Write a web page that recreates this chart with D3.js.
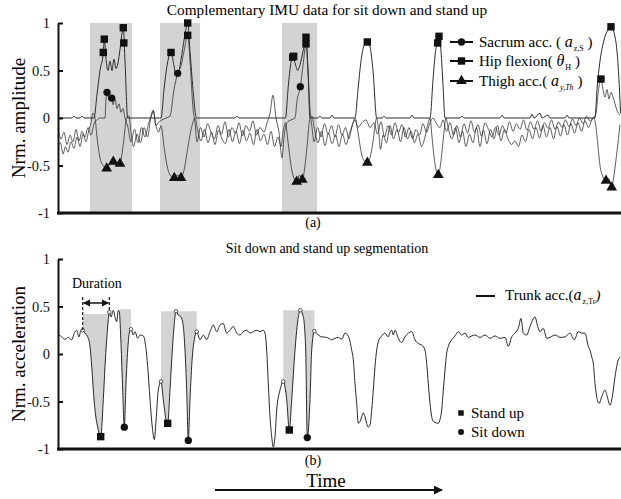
<!DOCTYPE html>
<html>
<head>
<meta charset="utf-8">
<script src="https://cdn.jsdelivr.net/npm/d3@7/dist/d3.min.js"></script>
<style>
  body { margin: 0; background: #fff; }
  svg { display: block; font-family: 'Liberation Serif', 'Times New Roman', serif; }
</style>
</head>
<body>
<svg id="chart" width="621" height="499"></svg>
<script>
// samples along the time axis (arbitrary units), values are normalised
const sampleRange = [58, 621];
const yTicks = [1, 0.5, 0, -0.5, -1];
const yTickLabels = ['1', '0.5', '0', '-0.5', '-1'];

// top panel: shaded sit/stand windows
const imuWindows = [[90, 132], [160, 200], [282, 317]];

const hipFlexion = [
  [58, 0], [72, 0], [74, 0.02], [76, 0], [80, 0], [82, 0.02], [84, 0], [94, 0], [97, 0.25], [100, 0.5],
  [103.3, 0.69], [104.3, 0.83], [106, 0.62], [108, 0.5], [110, 0.6], [112, 0.5], [114, 0.62], [116, 0.52],
  [118, 0.58], [120, 0.72], [123.3, 0.95], [125, 0.6], [127.7, 0], [161, 0], [164, 0.3], [167, 0.55],
  [171, 0.69], [174, 0.55], [176, 0.45], [179, 0.5], [182, 0.68], [185, 0.88], [187.7, 1.0], [190, 0.7],
  [193, 0.3], [196.5, 0], [235, 0], [237, 0.02], [239, 0], [285.5, 0], [288, 0.3], [290.5, 0.55],
  [292.7, 0.64], [295, 0.58], [297.7, 0.5], [300, 0.56], [303, 0.7], [306, 0.85], [308, 0.5], [310, 0],
  [318, 0], [320, 0.02], [322, 0], [330, 0], [332, 0.03], [334, 0], [355, 0], [358, 0.3], [361, 0.6],
  [364, 0.76], [367.3, 0.8], [370, 0.75], [373, 0.5], [376.7, 0], [382, 0], [384, 0.02], [386, 0],
  [410, 0], [412, 0.03], [414, 0], [430, 0], [433, 0.4], [435.5, 0.7], [437.7, 0.79], [439, 0.86],
  [441, 0.7], [443, 0.35], [445, 0], [460, 0], [462, 0.02], [464, 0], [500, 0], [502, 0.03], [504, 0],
  [530, 0], [532, 0.04], [534, 0], [540, 0.05], [542, 0], [548, 0.03], [550, 0], [565, 0], [567, 0.03],
  [569, 0], [595, 0], [597, 0.3], [600, 0.6], [604, 0.82], [608, 0.93], [611, 0.96], [614, 0.9],
  [617, 0.7], [619, 0.4], [620.5, 0.05]
];

const sacrumAcc = [
  [58, -0.1], [61, -0.22], [64, -0.15], [67, -0.28], [70, -0.18], [73, -0.25], [76, -0.12], [79, -0.24],
  [82, -0.14], [85, -0.2], [88, -0.1], [91, -0.18], [94, -0.06], [97, -0.02], [100, 0], [105, 0],
  [106, 0.2], [107, 0.27], [109, 0.19], [111.7, 0.21], [113, 0.14], [115, 0.2], [117, 0.1], [119, 0.15],
  [121, 0.06], [123, 0.1], [125, 0], [128, -0.1], [131, -0.25], [134.5, -0.12], [138, -0.26], [141.5, -0.1],
  [145, -0.2], [148.5, -0.06], [152, 0.04], [153.5, 0.08], [156, -0.08], [159, -0.04], [162, -0.02],
  [166, 0], [170, 0.02], [174, 0.3], [177.7, 0.47], [181, 0.55], [184, 0.7], [187.7, 0.87], [190, 0.6],
  [193, 0.1], [195, -0.05], [197, -0.25], [200.5, -0.1], [204, -0.2], [207.5, -0.06], [211, -0.15],
  [214.5, -0.22], [218, -0.08], [221.5, -0.17], [225, -0.04], [228.5, -0.2], [232, -0.1], [235.5, -0.16],
  [239, -0.05], [242.5, -0.19], [246, -0.08], [249.5, -0.14], [253, -0.03], [256.5, -0.18], [260, -0.1],
  [264, -0.15], [267, -0.05], [270, 0.05], [273, 0.24], [276, 0], [279, -0.15], [282, -0.42], [284, -0.2],
  [287, -0.05], [291, -0.02], [295, 0], [297, 0.18], [300.3, 0.33], [303, 0.55], [306, 0.78], [308, 0.5],
  [310, 0.1], [312, -0.1], [314, -0.25], [317.5, -0.1], [321, -0.2], [324.5, -0.06], [328, -0.17],
  [331.5, -0.08], [335, -0.2], [338.5, -0.07], [342, -0.18], [345.5, -0.1], [349, -0.22], [352, -0.08],
  [355, -0.02], [358, -0.1], [362, -0.05], [366, -0.02], [370, -0.1], [374, -0.05], [377.5, -0.17],
  [381, -0.04], [384.5, -0.2], [388, -0.08], [391.5, -0.18], [395, -0.05], [398.5, -0.15], [402, -0.07],
  [405.5, -0.2], [409, -0.1], [412.5, -0.22], [416, -0.12], [419.5, -0.18], [423, -0.06], [426.5, -0.15],
  [430, -0.05], [433, 0], [436, -0.05], [440, -0.1], [443, -0.02], [446.5, -0.14], [450, -0.05],
  [453.5, -0.18], [457, -0.08], [460.5, -0.2], [464, -0.06], [467.5, -0.16], [471, -0.03], [474.5, -0.15],
  [478, -0.07], [481.5, -0.19], [485, -0.05], [488.5, -0.12], [492, -0.2], [495.5, -0.1], [499, -0.18],
  [502.5, -0.08], [506, -0.16], [509.5, -0.04], [513, -0.14], [516.5, -0.06], [520, -0.12], [523.5, -0.02],
  [527, -0.13], [530.5, -0.04], [534, -0.12], [537.5, -0.03], [541, -0.14], [544.5, -0.05], [548, -0.11],
  [551.5, -0.02], [555, -0.12], [558.5, -0.04], [562, -0.1], [565.5, -0.02], [569, -0.09], [572.5, -0.01],
  [576, -0.08], [579.5, 0], [583, -0.06], [586.5, 0.02], [590, -0.03], [593, 0], [596, 0.05], [598, 0.25],
  [601, 0.41], [603, 0.3], [605, 0.22], [607, 0.3], [609, 0.2], [611, 0.27], [613, 0.22], [615, 0.15],
  [617, 0.08], [620, 0.03]
];

const thighAcc = [
  [58, -0.3], [60.5, -0.26], [63, -0.38], [65.5, -0.3], [68, -0.36], [71, -0.25], [74, -0.32], [77, -0.2],
  [80, -0.3], [83, -0.17], [86, -0.25], [89, -0.12], [91, -0.05], [93, 0.05], [95, 0], [97, -0.2],
  [100, -0.42], [103, -0.5], [106.7, -0.53], [110, -0.48], [113.3, -0.46], [116.5, -0.5], [120, -0.48],
  [123, -0.3], [126.7, 0], [129, 0.02], [131, -0.15], [133.5, -0.3], [137, -0.17], [140.5, -0.26],
  [144, -0.1], [147.5, -0.2], [151, 0.02], [153, 0.08], [155.5, -0.06], [158.5, -0.15], [161, -0.08],
  [164, -0.3], [167, -0.5], [170, -0.6], [174.3, -0.63], [177.5, -0.6], [181, -0.63], [184, -0.55],
  [188, -0.3], [192, -0.08], [195, 0], [197.5, -0.12], [201, -0.24], [204.5, -0.12], [208, -0.26],
  [211.5, -0.15], [215, -0.28], [218.5, -0.13], [222, -0.22], [225.5, -0.27], [229, -0.12], [232.5, -0.25],
  [236, -0.14], [239.5, -0.27], [243, -0.13], [246.5, -0.24], [250, -0.16], [253.5, -0.28], [257, -0.12],
  [260.5, -0.24], [264, -0.17], [267.5, -0.28], [271, -0.14], [274.5, -0.3], [278, -0.2], [281, -0.3],
  [283, -0.15], [285.5, -0.05], [288, -0.25], [291, -0.5], [293.5, -0.62], [296.7, -0.67], [299.5, -0.6],
  [302.3, -0.65], [305, -0.5], [307, -0.3], [310, 0], [312, 0.02], [314.5, -0.12], [318, -0.26],
  [321.5, -0.14], [325, -0.29], [328.5, -0.16], [332, -0.27], [335.5, -0.18], [339, -0.3], [342.5, -0.17],
  [346, -0.28], [349.5, -0.16], [352.5, -0.08], [355, 0], [358, -0.15], [361, -0.35], [364, -0.45],
  [367.3, -0.47], [370, -0.42], [373, -0.25], [376.7, 0], [378.5, -0.12], [380.5, -0.33], [383, -0.18],
  [386.5, -0.26], [390, -0.08], [393.5, -0.22], [397, -0.12], [400.5, -0.25], [404, -0.1], [407.5, -0.22],
  [411, -0.14], [414.5, -0.26], [418, -0.17], [421.5, -0.3], [425, -0.2], [428, -0.06], [430, 0],
  [432, -0.2], [434.5, -0.45], [438.3, -0.6], [441, -0.45], [443.5, -0.2], [446, 0], [448.5, -0.12],
  [452, -0.22], [455.5, -0.1], [459, -0.26], [462.5, -0.14], [466, -0.3], [469.5, -0.17], [473, -0.26],
  [476.5, -0.1], [480, -0.3], [483.5, -0.13], [487, -0.27], [490.5, -0.12], [494, -0.22], [497.5, -0.08],
  [501, -0.24], [504.5, -0.12], [508, -0.22], [511.5, -0.28], [515, -0.24], [518.5, -0.3], [522, -0.18],
  [525.5, -0.25], [529, -0.12], [532.5, -0.22], [536, -0.1], [539.5, -0.21], [543, -0.08], [546.5, -0.2],
  [550, -0.1], [553.5, -0.22], [557, -0.09], [560.5, -0.19], [564, -0.07], [567.5, -0.18], [571, -0.06],
  [574.5, -0.16], [578, -0.05], [581.5, -0.14], [585, -0.03], [588.5, -0.1], [592, -0.02], [594, 0],
  [596, -0.1], [598, -0.3], [600, -0.5], [603, -0.62], [606, -0.66], [609, -0.64], [611.7, -0.73],
  [614, -0.6], [617, -0.35], [620, -0.07]
];

// detected events drawn as markers
const hipMarks = [
  [103.3, 0.69], [104.3, 0.83], [123.3, 0.95], [123.8, 0.79], [171, 0.69], [187.7, 1.0], [187.7, 0.87],
  [292.7, 0.64], [293.7, 0.65], [306, 0.85], [306, 0.78], [367.3, 0.8], [437.7, 0.79], [439, 0.86],
  [601, 0.41], [611, 0.96]
];
const sacrumMarks = [[107, 0.27], [111.7, 0.21], [177.7, 0.47], [300.3, 0.33]];
const thighMarks = [
  [106.7, -0.53], [113.3, -0.46], [120, -0.48], [174.3, -0.63], [181, -0.63], [296.7, -0.67],
  [302.3, -0.65], [367.3, -0.47], [438.3, -0.6], [606, -0.66], [611.7, -0.73]
];

// bottom panel: trunk acceleration
const trunkAcc = [
  [58, 0.19], [59, 0.2], [61.7, 0.18], [65, 0.155], [68.3, 0.175], [71.7, 0.15], [74.3, 0.22], [76.7, 0.25],
  [79, 0.18], [81, 0.25], [82.7, 0.25], [85, 0.22], [88.3, 0.165], [90, 0.08], [91.7, -0.13], [93.3, -0.38],
  [95, -0.59], [97.7, -0.77], [100.7, -0.87], [103.3, -0.48], [105, -0.13], [106.7, 0.15], [108.3, 0.36],
  [109.3, 0.44], [111, 0.39], [113.3, 0.46], [115, 0.39], [116.7, 0.34], [118.3, 0.46], [119.3, 0.445],
  [121, 0.11], [122.7, -0.38], [124.3, -0.77], [126, -0.31], [127.7, 0.04], [129.3, 0.22], [131, 0.26],
  [133.3, 0.2], [135, 0.235], [137.7, 0.165], [140, 0.2], [143.3, 0.19], [145.7, 0.08], [147.7, -0.13],
  [150, -0.48], [152.3, -0.77], [154.3, -0.9], [156.3, -0.66], [158.3, -0.38], [161, -0.29], [163.3, -0.48],
  [166, -0.69], [167.7, -0.73], [170, -0.38], [172.3, 0.04], [174.3, 0.32], [176, 0.45], [178.3, 0.41],
  [181, 0.39], [183.3, 0.29], [185, 0.04], [186.7, -0.38], [188.3, -0.91], [190, -0.48], [192.3, -0.03],
  [194.3, 0.15], [196.7, 0.235], [200, 0.15], [203.3, 0.2], [206.7, 0.15], [210, 0.235], [213.3, 0.305],
  [216.7, 0.235], [220, 0.305], [223.3, 0.32], [226.7, 0.22], [230, 0.25], [233.3, 0.29], [236.7, 0.22],
  [240, 0.2], [243.3, 0.235], [246.7, 0.25], [250, 0.22], [253.3, 0.235], [256.7, 0.25], [260, 0.235],
  [263.3, 0.25], [265, 0.22], [266.7, 0.04], [268.3, -0.31], [270, -0.66], [271.7, -0.87], [273.3, -0.98],
  [275, -0.87], [276.7, -0.59], [280, -0.38], [283.3, -0.29], [286.7, -0.48], [289.3, -0.8], [291.7, -0.48],
  [295, 0.04], [298.3, 0.39], [300.3, 0.46], [303.3, 0.39], [305.7, 0.04], [307.3, -0.88], [310, -0.48],
  [311.7, 0.04], [314.3, 0.24], [318.3, 0.2], [321.7, 0.18], [326.7, 0.175], [331.7, 0.15], [335, 0.165],
  [338.3, 0.175], [341.7, 0.155], [345, 0.22], [348.3, 0.19], [351.7, 0.04], [353.3, -0.06], [355, -0.31],
  [356.7, -0.52], [358.3, -0.73], [360, -0.71], [361.7, -0.66], [363.3, -0.62], [365, -0.66], [366.7, -0.73],
  [368.3, -0.77], [370, -0.75], [371.7, -0.59], [373.3, -0.38], [375, -0.13], [376.7, 0.04], [378.3, 0.13],
  [381.7, 0.19], [385, 0.22], [388.3, 0.18], [390, 0.23], [391.7, 0.25], [393.3, 0.2], [395, 0.25],
  [398.3, 0.165], [401.7, 0.12], [405, 0.18], [408.3, 0.22], [411.7, 0.235], [415, 0.15], [418.3, 0.11],
  [421.7, 0.095], [425, 0.04], [426.7, -0.1], [428.3, -0.31], [430, -0.52], [431.7, -0.66], [433.3, -0.71],
  [435, -0.72], [438.3, -0.73], [440, -0.69], [441.7, -0.59], [443.3, -0.38], [445, -0.17], [446.7, 0.01],
  [448.3, 0.08], [451.7, 0.15], [455, 0.19], [458.3, 0.235], [461.7, 0.2], [465, 0.22], [468.3, 0.175],
  [471.7, 0.19], [475, 0.2], [480, 0.175], [485, 0.2], [490, 0.165], [495, 0.19], [500, 0.165], [505, 0.175],
  [508.3, 0.08], [511.7, 0.18], [515, 0.22], [518.3, 0.27], [521, 0.375], [523.3, 0.22], [526.7, 0.2],
  [530, 0.29], [535, 0.39], [537.7, 0.29], [540, 0.235], [543.3, 0.27], [546.7, 0.165], [550, 0.175],
  [555, 0.2], [560, 0.175], [565, 0.18], [570, 0.22], [574.3, 0.15], [578.3, 0.235], [581.7, 0.22],
  [585, 0.22], [588.3, 0.08], [590, 0.04], [591.7, -0.03], [593.3, -0.1], [595, -0.31], [596.7, -0.45],
  [599, -0.52], [601.7, -0.45], [605, -0.38], [607.3, -0.45], [610, -0.54], [612.3, -0.45], [615, -0.24],
  [618.3, -0.06], [620.5, -0.03]
];

// segmentation windows: [start, end, upper level]
const segWindows = [[82.7, 109.3, 0.42], [119.3, 131, 0.47], [161, 196.7, 0.45], [283.3, 314.3, 0.46]];
const segEdges = [82.7, 109.3, 131, 161, 176, 196.7, 283.3, 300.3, 314.3];
const standUpTimes = [100.7, 167.7, 289.3];
const sitDownTimes = [124.3, 188.3, 307.3];
const durationSpan = [82.7, 109.3];

let svg = d3.select('#chart');
let ink = '#111';

let x = d3.scaleLinear().domain(sampleRange).range([58, 621]);
let yTop = d3.scaleLinear().domain([-1, 1]).range([213, 23]);
let yBot = d3.scaleLinear().domain([-1, 1]).range([449, 259]);

let defs = svg.append('defs');
defs.append('marker')
  .attr('id', 'head')
  .attr('viewBox', '0 0 10 10')
  .attr('refX', 9)
  .attr('refY', 5)
  .attr('markerWidth', 5)
  .attr('markerHeight', 5)
  .attr('orient', 'auto-start-reverse')
  .append('path')
  .attr('d', 'M0,0L10,5L0,10z')
  .attr('fill', ink);

function valueAt(series, t) {
  return series.find(d => d[0] === t)[1];
}

function drawFrame(y, title, titleY, titleSize, yLabel, tag, tagY) {
  let axis = d3.axisLeft(y)
    .tickValues(yTicks)
    .tickFormat((d, i) => yTickLabels[i])
    .tickSizeInner(-5)
    .tickSizeOuter(0)
    .tickPadding(8);

  let g = svg.append('g')
    .attr('transform', 'translate(' + x.range()[0] + ',0)')
    .call(axis);
  g.select('.domain').attr('stroke', ink).attr('stroke-width', 2);
  g.selectAll('.tick line').attr('stroke', ink).attr('stroke-width', 2);
  g.selectAll('.tick text')
    .attr('fill', ink)
    .style('font-family', 'Liberation Serif, serif')
    .style('font-size', '14.5px');

  svg.append('line')
    .attr('x1', x.range()[0] - 1)
    .attr('x2', x.range()[1])
    .attr('y1', y(-1))
    .attr('y2', y(-1))
    .attr('stroke', ink)
    .attr('stroke-width', 3);

  svg.append('text')
    .attr('x', 327)
    .attr('y', titleY)
    .attr('text-anchor', 'middle')
    .style('font-size', titleSize)
    .text(title);

  svg.append('text')
    .attr('transform', 'translate(25,' + y(0) + ') rotate(-90)')
    .attr('text-anchor', 'middle')
    .style('font-size', '19px')
    .text(yLabel);

  svg.append('text')
    .attr('x', 313)
    .attr('y', tagY)
    .attr('text-anchor', 'middle')
    .style('font-size', '14px')
    .text(tag);
}

// ---- top panel ----
svg.append('g')
  .selectAll('rect')
  .data(imuWindows)
  .enter()
  .append('rect')
  .attr('x', d => x(d[0]))
  .attr('width', d => x(d[1]) - x(d[0]))
  .attr('y', yTop(1))
  .attr('height', yTop(-1) - yTop(1))
  .attr('fill', '#d3d3d3');

let lineTop = d3.line()
  .x(d => x(d[0]))
  .y(d => yTop(d[1]))
  .curve(d3.curveMonotoneX);

[[sacrumAcc, 0.75], [thighAcc, 0.75], [hipFlexion, 1]].forEach(s => {
  svg.append('path')
    .datum(s[0])
    .attr('d', lineTop)
    .attr('fill', 'none')
    .attr('stroke', '#2a2a2a')
    .attr('stroke-width', s[1]);
});

let squareSym = d3.symbol().type(d3.symbolSquare).size(55);
let circleSym = d3.symbol().type(d3.symbolCircle).size(42);
let triSym = d3.symbol().type(d3.symbolTriangle).size(50);

[[hipMarks, squareSym], [sacrumMarks, circleSym], [thighMarks, triSym]].forEach(m => {
  svg.append('g')
    .selectAll('path')
    .data(m[0])
    .enter()
    .append('path')
    .attr('d', m[1])
    .attr('transform', d => 'translate(' + x(d[0]) + ',' + yTop(d[1]) + ')')
    .attr('fill', ink);
});

drawFrame(yTop, 'Complementary IMU data for sit down and stand up', 15, '15.3px', 'Nrm. amplitude', '(a)', 227);

// legend (a)
let legendA = [
  { sym: circleSym, y: 42, text: 'Sacrum acc. ( ', v: 'a', sub: 'z,S', subItalic: false, end: ' )' },
  { sym: squareSym, y: 61, text: 'Hip flexion( ', v: '\u03b8', sub: 'H', subItalic: false, end: ' )' },
  { sym: triSym, y: 81, text: 'Thigh acc.( ', v: 'a', sub: 'y,Th', subItalic: true, end: ' )' }
];

let la = svg.append('g')
  .selectAll('g')
  .data(legendA)
  .enter()
  .append('g')
  .attr('transform', d => 'translate(0,' + d.y + ')');
la.append('line')
  .attr('x1', 450)
  .attr('x2', 473)
  .attr('stroke', ink)
  .attr('stroke-width', 2);
la.append('path')
  .attr('d', d => d.sym())
  .attr('transform', 'translate(461.5,0)')
  .attr('fill', ink);
let lt = la.append('text')
  .attr('x', 479)
  .attr('y', 5)
  .style('font-size', '15px');
lt.append('tspan').text(d => d.text);
lt.append('tspan').style('font-style', 'italic').style('font-size', '16px').text(d => d.v);
lt.append('tspan')
  .attr('dy', 4)
  .attr('dx', 1)
  .style('font-size', '8px')
  .style('font-style', d => (d.subItalic ? 'italic' : 'normal'))
  .text(d => d.sub);
lt.append('tspan').attr('dy', -4).text(d => d.end);

// ---- bottom panel ----
let inWindow = w => trunkAcc.filter(d => d[0] >= w[0] && d[0] <= w[1]);

svg.append('g')
  .selectAll('path')
  .data(segWindows)
  .enter()
  .append('path')
  .attr('d', w =>
    d3.area()
      .x(d => x(d[0]))
      .y0(yBot(w[2]))
      .y1(d => yBot(Math.min(d[1], w[2])))
      .curve(d3.curveMonotoneX)(inWindow(w))
  )
  .attr('fill', '#d3d3d3');

svg.append('path')
  .datum(trunkAcc)
  .attr('d', d3.line()
    .x(d => x(d[0]))
    .y(d => yBot(d[1]))
    .curve(d3.curveMonotoneX))
  .attr('fill', 'none')
  .attr('stroke', ink)
  .attr('stroke-width', 0.9);

svg.append('g')
  .selectAll('circle')
  .data(segEdges)
  .enter()
  .append('circle')
  .attr('cx', t => x(t))
  .attr('cy', t => yBot(valueAt(trunkAcc, t)))
  .attr('r', 1.8)
  .attr('fill', '#fff')
  .attr('stroke', ink)
  .attr('stroke-width', 0.7);

svg.append('g')
  .selectAll('path')
  .data(standUpTimes)
  .enter()
  .append('path')
  .attr('d', squareSym)
  .attr('transform', t => 'translate(' + x(t) + ',' + yBot(valueAt(trunkAcc, t)) + ')')
  .attr('fill', ink);

svg.append('g')
  .selectAll('path')
  .data(sitDownTimes)
  .enter()
  .append('path')
  .attr('d', circleSym)
  .attr('transform', t => 'translate(' + x(t) + ',' + yBot(valueAt(trunkAcc, t)) + ')')
  .attr('fill', ink);

drawFrame(yBot, 'Sit down and stand up segmentation', 253, '14px', 'Nrm. acceleration', '(b)', 465);

// duration annotation
durationSpan.forEach(t => {
  svg.append('line')
    .attr('x1', x(t))
    .attr('x2', x(t))
    .attr('y1', 297)
    .attr('y2', yBot(valueAt(trunkAcc, t)))
    .attr('stroke', ink)
    .attr('stroke-width', 1.2)
    .attr('stroke-dasharray', '3,2');
});
svg.append('line')
  .attr('x1', x(durationSpan[0]) + 1)
  .attr('x2', x(durationSpan[1]) - 1)
  .attr('y1', 303)
  .attr('y2', 303)
  .attr('stroke', ink)
  .attr('stroke-width', 1.5)
  .attr('marker-start', 'url(#head)')
  .attr('marker-end', 'url(#head)');
svg.append('text')
  .attr('x', 72)
  .attr('y', 288)
  .style('font-size', '14px')
  .text('Duration');

// legend (b)
svg.append('line')
  .attr('x1', 476)
  .attr('x2', 495)
  .attr('y1', 296)
  .attr('y2', 296)
  .attr('stroke', ink)
  .attr('stroke-width', 2);
let tb = svg.append('text')
  .attr('x', 505)
  .attr('y', 300)
  .style('font-size', '15px');
tb.append('tspan').text('Trunk acc.(');
tb.append('tspan').style('font-style', 'italic').style('font-size', '16px').text('a');
tb.append('tspan').attr('dy', 4).attr('dx', 1).style('font-size', '8px').text('z,Tr');
tb.append('tspan').attr('dy', -4).style('font-style', 'italic').text(')');

let legendB = [
  { sym: d3.symbol().type(d3.symbolSquare).size(30), y: 413, label: 'Stand up' },
  { sym: d3.symbol().type(d3.symbolCircle).size(28), y: 432, label: 'Sit down' }
];
let lb = svg.append('g')
  .selectAll('g')
  .data(legendB)
  .enter()
  .append('g')
  .attr('transform', d => 'translate(0,' + d.y + ')');
lb.append('path')
  .attr('d', d => d.sym())
  .attr('transform', 'translate(461,0)')
  .attr('fill', ink);
lb.append('text')
  .attr('x', 471)
  .attr('y', 5)
  .style('font-size', '15px')
  .text(d => d.label);

// time arrow
svg.append('line')
  .attr('x1', 215)
  .attr('x2', 442)
  .attr('y1', 490)
  .attr('y2', 490)
  .attr('stroke', ink)
  .attr('stroke-width', 1.8)
  .attr('marker-end', 'url(#head)');
svg.append('text')
  .attr('x', 326)
  .attr('y', 487)
  .attr('text-anchor', 'middle')
  .style('font-size', '19px')
  .text('Time');
</script>
</body>
</html>
